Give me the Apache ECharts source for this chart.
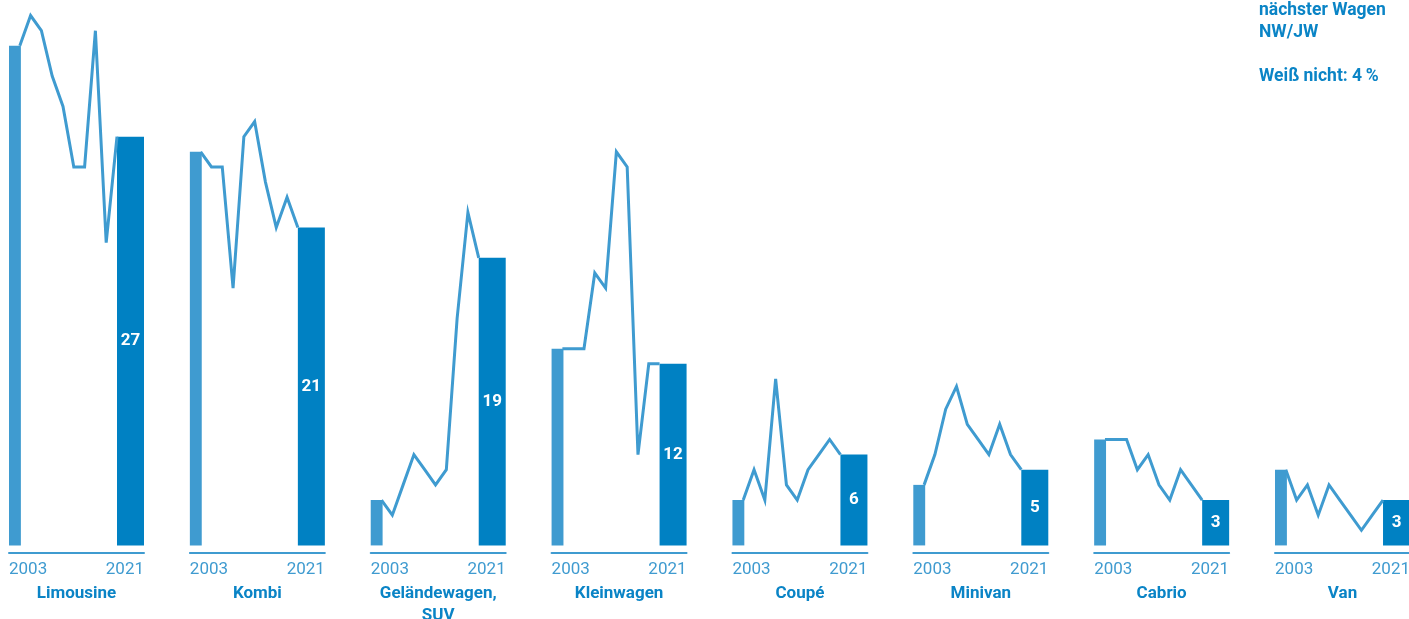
<!DOCTYPE html>
<html>
<head>
<meta charset="utf-8">
<script src="https://cdn.jsdelivr.net/npm/echarts@6/dist/echarts.min.js"></script>
<style>
  html, body { margin: 0; padding: 0; background: #fff; }
  #chart { width: 1409px; height: 619px; }
</style>
</head>
<body>
<div id="chart"></div>
<script>
// Survey years plotted on every small multiple
const years = [2003, 2005, 2007, 2009, 2011, 2013, 2015, 2017, 2019, 2021];
const yearTicks = ['2003', '2021'];

// Body styles (share in %)
const categories = ['Limousine', 'Kombi', 'Geländewagen,\nSUV', 'Kleinwagen', 'Coupé', 'Minivan', 'Cabrio', 'Van'];

const limousine = [33, 35, 34, 31, 29, 25, 25, 34, 20, 27];
const kombi     = [26, 25, 25, 17, 27, 28, 24, 21, 23, 21];
const suv       = [3, 2, 4, 6, 5, 4, 5, 15, 22, 19];
const kleinwagen = [13, 13, 13, 18, 17, 26, 25, 6, 12, 12];
const coupe     = [3, 5, 3, 11, 4, 3, 5, 6, 7, 6];
const minivan   = [4, 6, 9, 10.5, 8, 7, 6, 8, 6, 5];
const cabrio    = [7, 7, 7, 5, 6, 4, 3, 5, 4, 3];
const van       = [5, 3, 4, 2, 4, 3, 2, 1, 2, 3];

const seriesValues = [limousine, kombi, suv, kleinwagen, coupe, minivan, cabrio, van];

const noteLines = ['nächster Wagen', 'NW/JW', '', 'Weiß nicht: 4\u2009%'];

const LIGHT = '#3f9bd0';
const DARK = '#0081c3';
const TEXT = '#0a84c6';
const FONT = '"Liberation Sans Narrow", "Roboto", sans-serif';

const chart = echarts.init(document.getElementById('chart'));

const grid = [], xAxis = [], yAxis = [], series = [];
const panelStep = 180.86;

categories.forEach((name, i) => {
  const vals = seriesValues[i];
  grid.push({
    left: 9 + i * panelStep, width: 135, top: 8, bottom: 66,
    containLabel: false, outerBoundsMode: 'none'
  });
  // value axis carrying the data (hidden)
  xAxis.push({ type: 'value', gridIndex: i, min: 2001, max: 2026, show: false });
  // visible base line with the first/last year
  xAxis.push({
    type: 'category', gridIndex: i, data: yearTicks, boundaryGap: false,
    position: 'bottom',
    axisLine: { show: true, lineStyle: { color: LIGHT, width: 2 } },
    axisTick: { show: false },
    axisLabel: {
      color: LIGHT, fontFamily: FONT, fontSize: 17, margin: 8,
      alignMinLabel: 'left', alignMaxLabel: 'right'
    },
    name: name, nameLocation: 'middle', nameGap: 29,
    nameTextStyle: {
      color: TEXT, fontFamily: FONT, fontSize: 17, fontWeight: 'bold',
      lineHeight: 22, verticalAlign: 'top'
    }
  });
  yAxis.push({ type: 'value', gridIndex: i, min: -0.5, max: 35.5, show: false });

  const lineData = years.map((y, k) => [y, vals[k]]);
  const first = vals[0], last = vals[vals.length - 1];

  // start-year bar (thin) and end-year bar (wide, labelled)
  series.push({
    type: 'custom', xAxisIndex: 2 * i, yAxisIndex: i,
    data: [[2001, 2003.2, first, 0], [2021, 2026, last, 1]],
    renderItem: (params, api) => {
      const p0 = api.coord([api.value(0), api.value(2)]);
      const p1 = api.coord([api.value(1), 0]);
      const isLast = api.value(3) === 1;
      const rect = { x: p0[0], y: p0[1], width: p1[0] - p0[0], height: p1[1] - p0[1] };
      const children = [{
        type: 'rect', shape: rect,
        style: { fill: isLast ? DARK : LIGHT }
      }];
      if (isLast) {
        children.push({
          type: 'text',
          style: {
            text: String(api.value(2)),
            x: rect.x + rect.width / 2, y: rect.y + rect.height / 2,
            align: 'center', verticalAlign: 'middle',
            fill: '#fff', fontFamily: FONT, fontSize: 17, fontWeight: 'bold'
          }
        });
      }
      return { type: 'group', children };
    },
    silent: true, z: 2
  });

  series.push({
    type: 'line', xAxisIndex: 2 * i, yAxisIndex: i,
    data: lineData, showSymbol: false, symbol: 'none',
    lineStyle: { color: LIGHT, width: 3, join: 'miter' },
    silent: true, z: 3
  });
});

const graphic = noteLines.map((t, k) => ({
  type: 'text', left: 1259, top: 2 + k * 22,
  style: { text: t, fill: TEXT, fontFamily: FONT, fontSize: 17.5, fontWeight: 'bold' }
}));

chart.setOption({
  animation: false,
  grid, xAxis, yAxis, series, graphic
});
</script>
</body>
</html>
